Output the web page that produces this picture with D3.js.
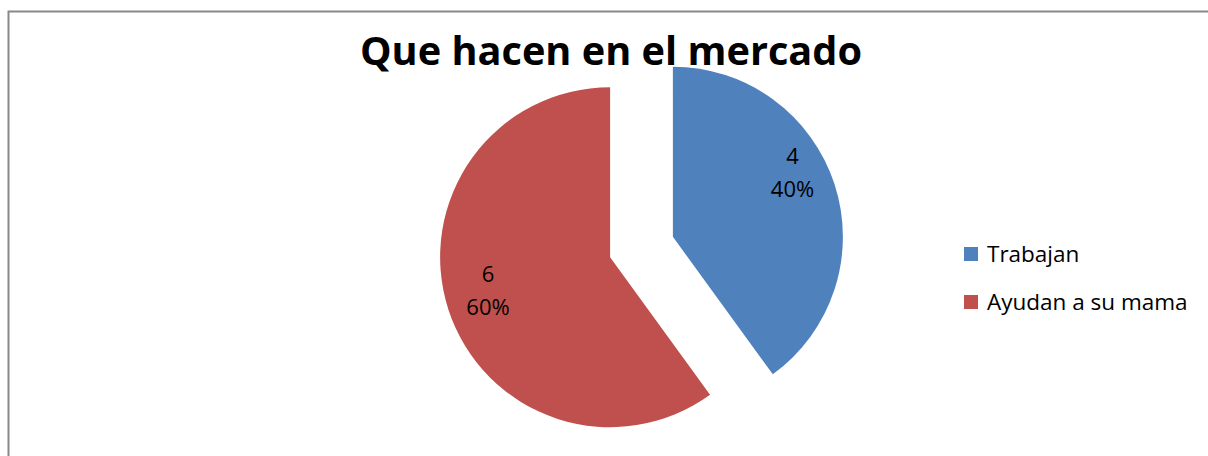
<!DOCTYPE html>
<html>
<head>
<meta charset="utf-8">
<script src="https://cdn.jsdelivr.net/npm/d3@7"></script>
<style>
    body { margin: 0; background: #fff; }
    svg { display: block; }
    .title { font-family: "Open Sans", sans-serif; font-weight: bold; fill: #000; }
    .lbl, .legend text { font-family: "Open Sans", sans-serif; fill: #000; }
</style>
</head>
<body>
<svg id="chart" width="1208" height="456"></svg>
<script>
// data
const categories = ["Trabajan", "Ayudan a su mama"];
const values = [4, 6];
const colors = ["#4F81BD", "#C0504D"];
const title = "Que hacen en el mercado";

const svg = d3.select('#chart');

// chart border (runs past the right/bottom edge)
svg.append('rect')
    .attr('x', 8.5)
    .attr('y', 11.5)
    .attr('width', 1240)
    .attr('height', 480)
    .attr('fill', '#fff')
    .attr('stroke', '#898989')
    .attr('stroke-width', 2);

const cx = 641.5, cy = 247;
const radius = 170;
const explode = 33;
const total = d3.sum(values);

const pie = d3.pie().sort(null).value(d => d)(values);
const arc = d3.arc().innerRadius(0).outerRadius(radius);

// label nudges, px
const nudge = [[-4, -17], [1.5, 1]];

const slices = svg.append('g')
    .selectAll('g')
    .data(pie)
    .enter()
    .append('g')
    .attr('transform', d => {
        const a = (d.startAngle + d.endAngle) / 2;
        const x = cx + explode * Math.sin(a);
        const y = cy - explode * Math.cos(a);
        return `translate(${x}, ${y})`;
    });

slices.append('path')
    .attr('d', arc)
    .attr('fill', (d, i) => colors[i]);

const labelArc = d3.arc().innerRadius(130).outerRadius(130);

slices.each(function (d, i) {
    const c = labelArc.centroid(d);
    const x = c[0] + nudge[i][0];
    const y = c[1] + nudge[i][1];
    const g = d3.select(this).append('text')
        .attr('class', 'lbl')
        .attr('text-anchor', 'middle')
        .attr('font-size', 22);
    g.append('tspan')
        .attr('x', x)
        .attr('y', y - 16)
        .text(d.data);
    g.append('tspan')
        .attr('x', x)
        .attr('y', y + 17)
        .text(Math.round(d.data / total * 100) + '%');
});

// title, fitted to the reference width
const t = svg.append('text')
    .attr('class', 'title')
    .attr('x', 611)
    .attr('y', 65)
    .attr('text-anchor', 'middle')
    .attr('font-size', 40)
    .text(title);
const tw = t.node().getComputedTextLength();
t.attr('font-size', 40 * 502 / tw);

// legend
const legend = svg.append('g')
    .attr('class', 'legend')
    .selectAll('g')
    .data(categories)
    .enter()
    .append('g')
    .attr('transform', (d, i) => `translate(964, ${247 + i * 48})`);

legend.append('rect')
    .attr('width', 14)
    .attr('height', 14)
    .attr('fill', (d, i) => colors[i]);

legend.append('text')
    .attr('x', 23)
    .attr('y', 15)
    .attr('font-size', 22.5)
    .text(d => d);
</script>
</body>
</html>
